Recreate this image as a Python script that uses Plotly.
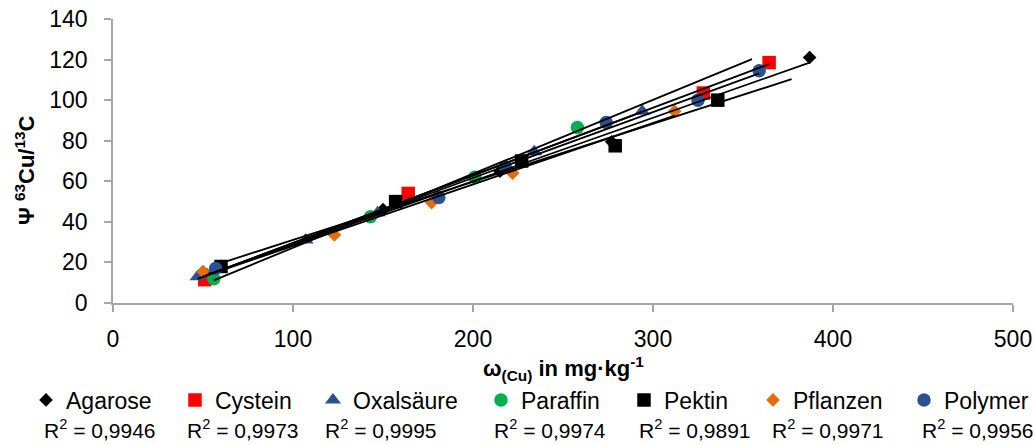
import numpy as np
import plotly.graph_objects as go

# Copper signal ratio versus copper content, seven matrices
series_names = ["Agarose", "Cystein", "Oxalsäure", "Paraffin", "Pektin", "Pflanzen", "Polymer"]
r2_labels = ["0,9946", "0,9973", "0,9995", "0,9974", "0,9891", "0,9971", "0,9956"]

agarose_x = [52, 150, 215, 277, 387]
agarose_y = [14, 46, 65, 79.5, 121]
cystein_x = [51, 164, 328, 364.5]
cystein_y = [11.5, 54, 103.5, 118.5]
oxalsaeure_x = [47, 107, 147, 234, 294]
oxalsaeure_y = [13, 31, 44.5, 74.5, 94.5]
paraffin_x = [56, 143, 201, 258]
paraffin_y = [12, 42.5, 62, 86.5]
pektin_x = [60, 157, 227, 279, 336]
pektin_y = [18, 50, 70, 77.5, 100]
pflanzen_x = [50, 123, 177, 222, 312]
pflanzen_y = [15.5, 33.5, 49.5, 64, 94.5]
polymer_x = [57, 181, 218, 274, 325, 359]
polymer_y = [17, 52, 67, 89, 100, 114.5]

# forward projection of the linear trend beyond the last sample
trend_forward = [0, 0, 0, 97, 41, 0, 0]

xs = [agarose_x, cystein_x, oxalsaeure_x, paraffin_x, pektin_x, pflanzen_x, polymer_x]
ys = [agarose_y, cystein_y, oxalsaeure_y, paraffin_y, pektin_y, pflanzen_y, polymer_y]

BLUE = "#2A5291"
styles = [
    dict(symbol="diamond", color="#000000", size=10.5),
    dict(symbol="square", color="#FF0000", size=13.5),
    dict(symbol="triangle-up", color=BLUE, size=14),
    dict(symbol="circle", color="#00B050", size=13.5),
    dict(symbol="square", color="#000000", size=13.5),
    dict(symbol="diamond", color="#E46C0A", size=10.5),
    dict(symbol="circle", color=BLUE, size=13.5),
]

FONT = "Liberation Sans"
AXIS_GREY = "#A6A6A6"

# plot area in pixels
L, R, T, B = 113, 1013, 19, 303
W, H = 1035, 445
PW, PH = R - L, B - T

def px_x(p):
    return (p - L) / PW

def px_y(p):
    return (B - p) / PH

fig = go.Figure()

# legend symbol centres and R² label left edges (pixels)
legend_sym_px = [46, 195, 333, 501, 644, 773, 924]
r2_left_px = [42, 185, 323, 492, 637, 770, 920]

for i, name in enumerate(series_names):
    st = styles[i]
    lg = "legend" if i == 0 else f"legend{i + 1}"
    fig.add_trace(go.Scatter(
        x=xs[i], y=ys[i], mode="markers", name=name, legend=lg,
        marker=dict(symbol=st["symbol"], color=st["color"], size=st["size"],
                    line=dict(width=0)),
        hoverinfo="x+y+name",
    ))

# linear trendlines on top of the markers
for i, name in enumerate(series_names):
    slope, icpt = np.polyfit(xs[i], ys[i], 1)
    lx = np.array([min(xs[i]), max(xs[i]) + trend_forward[i]])
    fig.add_trace(go.Scatter(
        x=lx, y=slope * lx + icpt, mode="lines", showlegend=False,
        line=dict(color="#000000", width=1.8), hoverinfo="skip",
    ))

legends = {}
for i in range(len(series_names)):
    key = "legend" if i == 0 else f"legend{i + 1}"
    legends[key] = dict(
        x=px_x(legend_sym_px[i] - 20), y=px_y(400), xanchor="left", yanchor="middle",
        orientation="h", bgcolor="rgba(0,0,0,0)", borderwidth=0,
        font=dict(family=FONT, size=23, color="#000000"),
        itemwidth=30,
    )

annotations = []
for i, lab in enumerate(r2_labels):
    annotations.append(dict(
        text=f"R<sup>2</sup> = {lab}", xref="paper", yref="paper",
        x=px_x(r2_left_px[i]), y=px_y(444), xanchor="left", yanchor="bottom",
        showarrow=False, font=dict(family=FONT, size=21, color="#000000"),
    ))

annotations.append(dict(
    text="<b>Ψ <sup>63</sup>Cu/<sup>13</sup>C</b>", xref="paper", yref="paper",
    x=px_x(25), y=px_y(170), xanchor="center", yanchor="middle", textangle=-90,
    showarrow=False, font=dict(family=FONT, size=22, color="#000000"),
))
annotations.append(dict(
    text="<b>ω<sub>(Cu)</sub> in mg·kg<sup>-1</sup></b>", xref="paper", yref="paper",
    x=0.5, y=px_y(368), xanchor="center", yanchor="middle",
    showarrow=False, font=dict(family=FONT, size=22, color="#000000"),
))

axis_common = dict(
    showline=True, linecolor=AXIS_GREY, linewidth=1.5,
    ticks="outside", ticklen=7, tickwidth=1.5, tickcolor=AXIS_GREY,
    showgrid=False, zeroline=False,
    tickfont=dict(family=FONT, size=23, color="#000000"),
)

fig.update_layout(
    width=W, height=H,
    margin=dict(l=L, r=W - R, t=T, b=H - B, pad=0, autoexpand=False),
    paper_bgcolor="white", plot_bgcolor="white",
    xaxis=dict(range=[0, 500], tickvals=[0, 100, 200, 300, 400, 500],
               ticklabelstandoff=8, **axis_common),
    yaxis=dict(range=[0, 140], tickvals=list(range(0, 141, 20)),
               ticklabelstandoff=12, **axis_common),
    annotations=annotations,
    **legends,
)

fig.write_html("out.html")
